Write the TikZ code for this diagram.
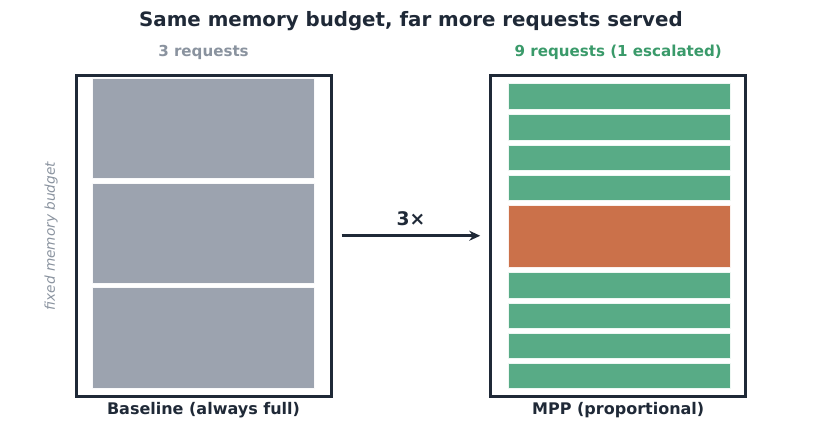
\documentclass[tikz,border=0pt]{standalone}
\usepackage{fontspec}
\setmainfont{DejaVu Sans}
\usetikzlibrary{positioning,arrows.meta}
\definecolor{inkdark}{HTML}{1F2937}
\definecolor{slotgray}{HTML}{9CA3AF}
\definecolor{reqgreen}{HTML}{58AB86}
\definecolor{reqorange}{HTML}{CB714A}
\definecolor{mutedtext}{HTML}{8A939F}
\definecolor{greentext}{HTML}{3A9A6A}
\begin{document}
\begin{tikzpicture}[x=1pt, y=-1pt,
  budget box/.style={draw=inkdark, line width=3pt, minimum width=255pt, minimum height=320.5pt, inner sep=0pt},
  slot/.style={fill=slotgray, draw=white!94!slotgray, line width=1pt, minimum width=222pt, minimum height=100pt, inner sep=0pt},
  req/.style={fill=reqgreen, draw=white!90!reqgreen, line width=1pt, minimum width=222pt, minimum height=25.5pt, inner sep=0pt},
  escalated/.style={req, fill=reqorange, draw=white!90!reqorange, minimum height=62pt},
  flow/.style={draw=inkdark, line width=3pt, -{Stealth[length=11pt, width=10pt]}},
  caption/.style={font=\fontsize{16}{18}\selectfont\bfseries, text=inkdark},
  side caption/.style={font=\fontsize{15.1}{17}\selectfont\bfseries}]
\useasboundingbox (0,0) rectangle (822,430);
\node[font=\fontsize{19.8}{23}\selectfont\bfseries, text=inkdark] (title) at (411,21) {Same memory budget, far more requests served};
% baseline: three full-size slots
\node[budget box] (basebox) at (203.5,235.75) {};
\node[slot] (slot1) at (203.3,129) {};
\node[slot] (slot2) at (203.3,233.5) {};
\node[slot] (slot3) at (203.3,338) {};
% mpp: proportional slots
\node[budget box] (mppbox) at (618.25,235.75) {};
\node[req] (req1) at (619,96.5) {};
\node[req] (req2) at (619,127.5) {};
\node[req] (req3) at (619,157.8) {};
\node[req] (req4) at (619,188) {};
\node[escalated] (req5) at (619,236.6) {};
\node[req] (req6) at (619,285.5) {};
\node[req] (req7) at (619,315.8) {};
\node[req] (req8) at (619,346) {};
\node[req] (req9) at (619,376.2) {};
\node[side caption, text=mutedtext, above=11pt of basebox] (basecount) {3 requests};
\node[side caption, text=greentext, above=11pt of mppbox] (mppcount) {9 requests (1 escalated)};
\node[caption, below=1pt of basebox] (baselabel) {Baseline (always full)};
\node[caption, below=1pt of mppbox] (mpplabel) {MPP (proportional)};
\node[font=\fontsize{13.65}{15}\selectfont\itshape, text=mutedtext, rotate=90] (budget) at (51,236) {fixed memory budget};
\draw[flow] ([xshift=9pt]basebox.east) -- node[above=5pt, font=\fontsize{18.7}{21}\selectfont\bfseries, text=inkdark] (gain) {3×} ([xshift=-9pt]mppbox.west);
\end{tikzpicture}
\end{document}
